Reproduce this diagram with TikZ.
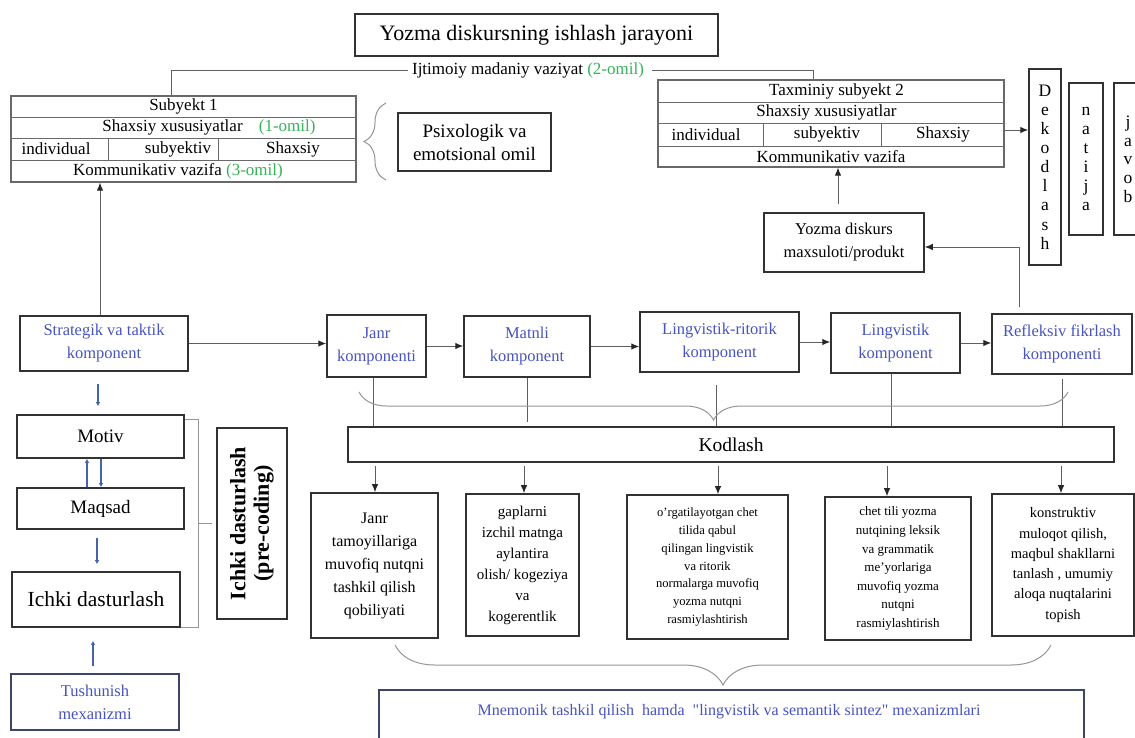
\documentclass[tikz,border=0pt]{standalone}
\usepackage{fontspec}
\setmainfont{Liberation Serif}
\newfontfamily\qfont{Liberation Serif}[Ligatures=TeXOff]
\usetikzlibrary{arrows.meta,decorations.pathreplacing}
\definecolor{bluetxt}{RGB}{72,84,190}
\definecolor{greentxt}{RGB}{55,180,90}
\definecolor{boxline}{RGB}{50,50,50}
\definecolor{tblline}{RGB}{105,105,105}
\definecolor{conline}{RGB}{95,95,95}
\definecolor{arrblue}{RGB}{70,100,170}
\definecolor{bracegray}{RGB}{150,150,150}
\definecolor{navyline}{RGB}{60,70,105}
\newcommand{\myfs}[2]{\fontsize{#1}{#2}\selectfont}
\newcommand{\sq}{{\qfont"}}
\tikzset{
  box/.style={draw=boxline, line width=1.5pt, inner sep=1pt, align=center, text=black},
  tbl/.style={draw=tblline, line width=1.2pt, inner sep=0pt},
  tline/.style={draw=tblline, line width=1pt},
  rowtxt/.style={inner sep=0pt, font=\myfs{17}{20}},
  comp/.style={box, text=bluetxt, font=\myfs{16.5}{23}},
  con/.style={draw=conline, line width=1pt},
  arr/.style={con, -{Latex[length=8pt,width=6.5pt,color=black!85]}},
  barr/.style={draw=arrblue, line width=2pt, -{Latex[length=4pt,width=4.5pt]}},
  brc/.style={draw=bracegray, line width=1pt, decorate},
  lowbox/.style={box, line width=1.6pt},
  bracket/.style={draw=bracegray, line width=1pt},
}
\begin{document}
\begin{tikzpicture}[x=1pt,y=-1pt]
\clip (0,0) rectangle (1135,737);
\fill[white] (0,0) rectangle (1135,737);

% title
\node[box, minimum width=363, minimum height=42, font=\myfs{22}{24}] (title) at (536.5,35) {Yozma diskursning ishlash jarayoni};
\node[inner sep=0pt, font=\myfs{17}{20}] (ijt) at (528,70) {Ijtimoiy madaniy vaziyat {\color{greentxt}(2-omil)}};

% subyekt 1 table
\node[tbl, minimum width=345, minimum height=86] (sub1) at (183.5,139) {};
\draw[tline] (11,117) -- (356,117) (11,138) -- (356,138) (11,160) -- (356,160) (108,138) -- (108,160) (218,138) -- (218,160);
\node[rowtxt] (s1a) at (183.5,106.5) {Subyekt 1};
\node[rowtxt] (s1b) at (209,127.5) {Shaxsiy xususiyatlar\hspace{12pt} {\color{greentxt}(1-omil)}};
\node[rowtxt] (s1c) at (56,149) {individual};
\node[rowtxt] (s1d) at (178,149) {subyektiv};
\node[rowtxt] (s1e) at (293,149) {Shaxsiy};
\node[rowtxt] (s1f) at (178,171) {Kommunikativ vazifa {\color{greentxt}(3-omil)}};

% psixologik
\node[box, minimum width=153, minimum height=58, font=\myfs{19}{23}] (psix) at (474.5,142) {Psixologik va\\emotsional omil};
\draw[brc, decoration={brace, amplitude=22pt}] (386,180) -- (386,103);

% subyekt 2 table
\node[tbl, minimum width=346, minimum height=87] (sub2) at (831,123.5) {};
\draw[tline] (658,102) -- (1004,102) (658,123) -- (1004,123) (658,146) -- (1004,146) (763,123) -- (763,146) (881,123) -- (881,146);
\node[rowtxt] (s2a) at (836.5,91) {Taxminiy subyekt 2};
\node[rowtxt] (s2b) at (826.5,112.5) {Shaxsiy xususiyatlar};
\node[rowtxt] (s2c) at (706,134.5) {individual};
\node[rowtxt] (s2d) at (827,134.5) {subyektiv};
\node[rowtxt] (s2e) at (943,134.5) {Shaxsiy};
\node[rowtxt] (s2f) at (831,156.5) {Kommunikativ vazifa};

% vertical boxes
\node[box, minimum width=32, minimum height=196, font=\myfs{17.5}{19.1}] (dekod) at (1045,167) {D\\e\\k\\o\\d\\l\\a\\s\\h};
\node[box, minimum width=34, minimum height=152, font=\myfs{17.5}{19}] (natija) at (1086,159) {n\\a\\t\\i\\j\\a};
\node[box, minimum width=28, minimum height=152, font=\myfs{17.5}{18.7}] (javob) at (1128,159) {j\\a\\v\\o\\b};

% yozma diskurs
\node[box, minimum width=160, minimum height=59, font=\myfs{16.5}{23}] (yozma) at (844,242.5) {Yozma diskurs\\maxsuloti/produkt};

% components
\node[comp, minimum width=168, minimum height=55] (strat) at (104,343.5) {Strategik va taktik\\komponent};
\node[comp, minimum width=99, minimum height=62] (janr) at (376.5,346) {Janr\\komponenti};
\node[comp, minimum width=126, minimum height=61] (matnli) at (527,346.5) {Matnli\\komponent};
\node[comp, minimum width=159, minimum height=60] (lr) at (719.5,342) {Lingvistik-ritorik\\komponent};
\node[comp, minimum width=129, minimum height=60] (ling) at (895.5,343) {Lingvistik\\komponent};
\node[comp, minimum width=140, minimum height=60] (refl) at (1062,344) {Refleksiv fikrlash\\komponenti};

% kodlash
\node[box, minimum width=766, minimum height=35, font=\myfs{19.5}{22}] (kod) at (731,444.5) {Kodlash};

% lower boxes
\node[lowbox, minimum width=127, minimum height=145, font=\myfs{16}{23}] (janr2) at (374.5,565.5) {Janr\\tamoyillariga\\muvofiq nutqni\\tashkil qilish\\qobiliyati};
\node[lowbox, minimum width=113, minimum height=142, font=\myfs{15}{21}] (gap) at (522.5,565) {gaplarni\\izchil matnga\\aylantira\\olish/ kogeziya\\va\\kogerentlik};
\node[lowbox, minimum width=161, minimum height=144, font=\myfs{12.6}{17.7}] (org) at (707.5,567) {o’rgatilayotgan chet\\tilida qabul\\qilingan lingvistik\\va ritorik\\normalarga muvofiq\\yozma nutqni\\rasmiylashtirish};
\node[lowbox, minimum width=146, minimum height=143, font=\myfs{13}{18.6}] (chet) at (898,568.5) {chet tili yozma\\nutqining leksik\\va grammatik\\me’yorlariga\\muvofiq yozma\\nutqni\\rasmiylashtirish};
\node[lowbox, minimum width=142, minimum height=142, font=\myfs{14.5}{20.3}] (konst) at (1063,565) {konstruktiv\\muloqot qilish,\\maqbul shakllarni\\tanlash , umumiy\\aloqa nuqtalarini\\topish};

% left column
\node[lowbox, minimum width=167, minimum height=43, font=\myfs{19}{22}] (motiv) at (100.5,436.5) {Motiv};
\node[lowbox, minimum width=167, minimum height=41, font=\myfs{19}{22}] (maqsad) at (100.5,508.5) {Maqsad};
\node[lowbox, minimum width=168, minimum height=55, font=\myfs{21.5}{24}] (ichki) at (96,599.5) {Ichki dasturlash};
\node[lowbox, draw=navyline, minimum width=168, minimum height=56, text=bluetxt, font=\myfs{16.5}{23}] (tush) at (95,702) {Tushunish\\mexanizmi};
\node[lowbox, rotate=90, minimum width=191, minimum height=70, font=\bfseries\myfs{22}{23.5}] (prec) at (252,523.5) {Ichki dasturlash\\(pre-coding)};

% bracket for pre-coding
\coordinate (bt) at (198,419);
\coordinate (bb) at (198,627);
\coordinate (bm) at (198,523);
\draw[bracket] (motiv.east |- bt) -- (bt) -- (bb) -- (ichki.east |- bb);
\draw[bracket] (bm) -- ++(14,0);

% mnemonik
\node[draw=navyline, line width=2pt, minimum width=705, minimum height=58, inner sep=0pt] (mnem) at (731.5,719) {};
\node[inner sep=0pt, text=bluetxt, font=\myfs{16}{18}] (mnemt) at (729,712) {Mnemonik tashkil qilish\ \ hamda\ \ \sq lingvistik va semantik sintez\sq{} mexanizmlari};

% ---------- connectors ----------
\draw[con, shorten <=4pt] (ijt.west) -| ([xshift=-12pt]sub1.north);
\draw[con, shorten <=8pt] (ijt.east) -| ([xshift=-18pt]sub2.north);

\coordinate (p6) at ([xshift=-4pt]strat.north);
\draw[arr] (p6) -- (p6 |- sub1.south);

\coordinate (p7) at ([yshift=-6.5pt]sub2.east);
\draw[arr] (p7) -- (p7 -| dekod.west);

\coordinate (p8) at ([xshift=-6pt]yozma.north);
\draw[arr, shorten <=8pt] (p8) -- (p8 |- sub2.south);

\coordinate (p9) at ([xshift=-43pt]refl.north);
\coordinate (p10) at ([yshift=-4.5pt]yozma.east);
\draw[arr, shorten <=6pt] (p9) |- (p10);

\draw[arr] (strat.east) -- (strat.east -| janr.west);
\draw[arr] (janr.east) -- (janr.east -| matnli.west);
\draw[arr] (matnli.east) -- (matnli.east -| lr.west);
\draw[arr] (lr.east) -- (lr.east -| ling.west);
\draw[arr] (ling.east) -- (ling.east -| refl.west);

\coordinate (q1) at ([xshift=-3.5pt]janr.south);
\draw[con] (q1) -- (q1 |- kod.north);
\draw[con, shorten >=4pt] (matnli.south) -- (matnli.south |- kod.north);
\coordinate (q3) at ([xshift=-3.5pt]lr.south);
\draw[con, shorten <=12pt] (q3) -- (q3 |- kod.north);
\coordinate (q4) at ([xshift=-4.5pt]ling.south);
\draw[con] (q4) -- (q4 |- kod.north);
\draw[con, shorten <=4pt] (refl.south) -- (refl.south |- kod.north);

\draw[brc, decoration={brace, amplitude=28pt}] (1068,392) -- (359,392);
\draw[brc, decoration={brace, amplitude=40pt}] (1051,645) -- (395,645);

\foreach \b/\s in {janr2/0.5, gap/1.5, org/10.5, chet/-11, konst/-2} {
  \coordinate (t) at ([xshift=\s pt]\b.north);
  \draw[arr, shorten <=3pt] (t |- kod.south) -- (t);
}

% blue arrows left column
\coordinate (p1) at ([xshift=-6pt]strat.south);
\draw[barr, shorten <=12pt, shorten >=8pt] (p1) -- (p1 |- motiv.north);
\coordinate (p2) at ([xshift=-13.5pt]maqsad.north);
\draw[barr] (p2) -- (p2 |- motiv.south);
\coordinate (p3) at ([xshift=0.5pt]motiv.south);
\draw[barr] (p3) -- (p3 |- maqsad.north);
\coordinate (p4) at ([xshift=-3.5pt]maqsad.south);
\draw[barr, shorten <=8pt, shorten >=7pt] (p4) -- (p4 |- ichki.north);
\coordinate (p5) at ([xshift=-2pt]tush.north);
\draw[barr, shorten <=7pt, shorten >=13pt] (p5) -- (p5 |- ichki.south);
\end{tikzpicture}
\end{document}
